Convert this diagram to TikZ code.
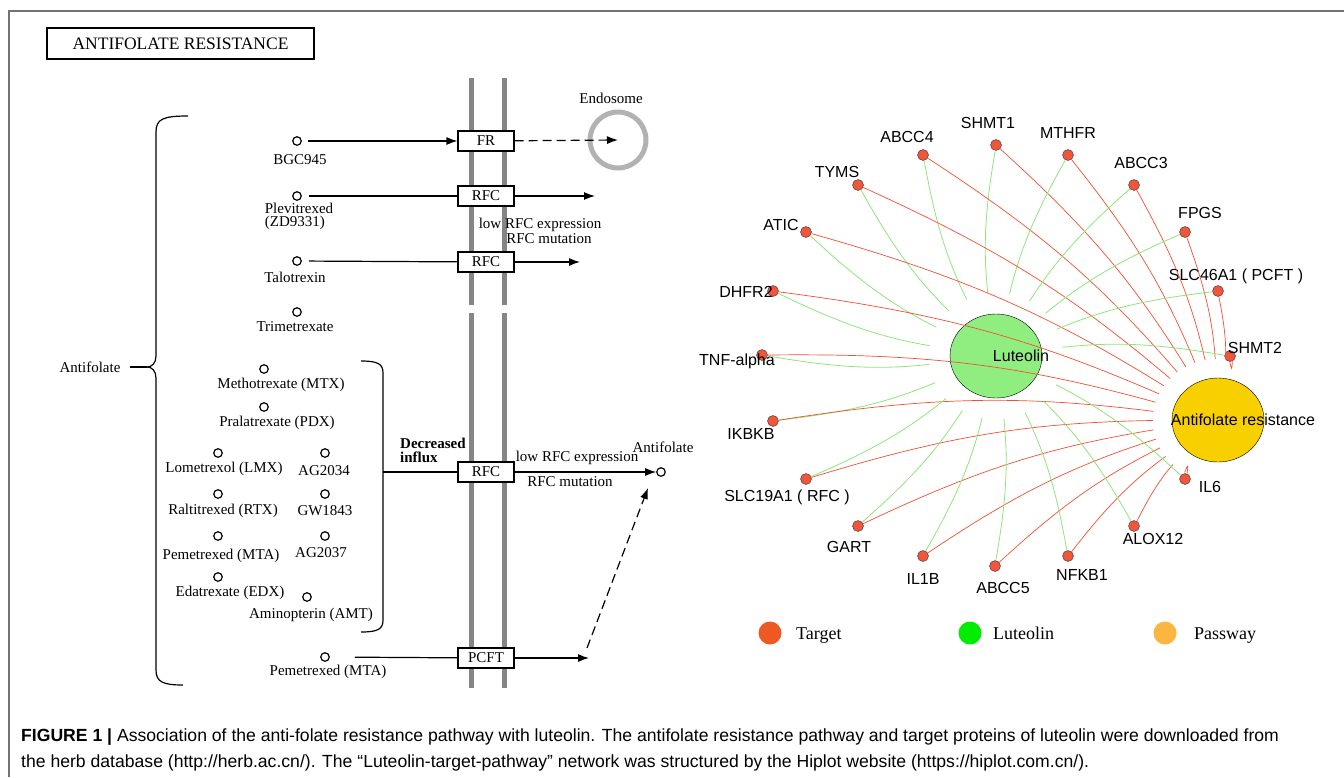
\documentclass[tikz,border=0pt]{standalone}
\usepackage{fontspec}
\setmainfont{Liberation Serif}
\newfontfamily\netfont{Liberation Sans}
\usetikzlibrary{arrows.meta,shapes.geometric}
\definecolor{dotred}{RGB}{240,86,60}
\definecolor{edgered}{RGB}{240,80,50}
\definecolor{edgegreen}{RGB}{140,230,120}
\definecolor{lutfill}{RGB}{144,238,128}
\definecolor{pathfill}{RGB}{248,208,0}
\definecolor{legred}{RGB}{238,88,36}
\definecolor{leggreen}{RGB}{0,236,0}
\definecolor{legorange}{RGB}{250,182,64}
\tikzset{
	mol/.style={circle,draw,line width=1.2pt,inner sep=0pt,minimum size=8.5pt},
	molname/.style={inner sep=0pt,font=\fontsize{15}{13}\selectfont},
	carrier/.style={draw,line width=1.2pt,fill=white,minimum width=56pt,minimum height=20pt,inner sep=0pt,font=\fontsize{15}{15}\selectfont},
	membrane/.style={line width=5pt,draw=black!48},
	flow/.style={line width=1.2pt,-{Latex[length=11pt,width=8pt]}},
	gap/.style={dash pattern=on 9pt off 5pt},
	target/.style={circle,draw=black!80,fill=dotred,inner sep=0pt,minimum size=11pt},
	netname/.style={inner sep=0pt,font=\netfont\fontsize{16}{16}\selectfont},
	tolut/.style={edgegreen,line width=0.8pt,bend right=8,shorten >=21pt},
	topath/.style={edgered,line width=0.7pt,bend left=8,shorten >=19pt},
	legdot/.style={circle,inner sep=0pt,minimum width=23pt,minimum height=21pt},
	legname/.style={inner sep=0pt,font=\fontsize{18}{18}\selectfont,anchor=base west},
	capline/.style={inner sep=0pt,anchor=base west,font=\netfont\fontsize{17.6}{17.6}\selectfont},
}
\begin{document}
\begin{tikzpicture}[x=1pt,y=-1pt]
	\useasboundingbox (0,0) rectangle (1344,777);
	\draw[black!55,line width=1.5pt] (9,777) -- (9,11) -- (1344,11);
	\node[draw,line width=2pt,minimum width=267pt,minimum height=31pt,inner sep=0pt,font=\fontsize{17.5}{17.5}\selectfont] (title) at (180.5,43.5) {ANTIFOLATE RESISTANCE};

	\draw[membrane] (471,78) -- (471,305) (471,313) -- (471,688);
	\draw[membrane] (504,78) -- (504,305) (504,313) -- (504,688);
	\node[carrier] (fr) at (486,141) {FR};
	\node[carrier] (rfca) at (486,196) {RFC};
	\node[carrier] (rfcb) at (486,262) {RFC};
	\node[carrier] (rfcc) at (486,472) {RFC};
	\node[carrier] (pcft) at (486,658) {PCFT};

	\node[circle,draw=black!30,line width=5pt,minimum size=56pt] (endo) at (618,140) {};
	\node[molname] (endoname) at (611,98) {Endosome};

	\node[mol] (bgc) at (297,141) {};
	\node[molname] (bgcname) at (300,160) {BGC945};
	\node[mol] (plev) at (297,196) {};
	\node[molname,align=left] (plevname) at (299,216) {Plevitrexed\\(ZD9331)};
	\node[mol] (talo) at (297,261) {};
	\node[molname] (taloname) at (295,277) {Talotrexin};
	\node[mol] (trime) at (297,312) {};
	\node[molname] (trimename) at (295,327) {Trimetrexate};
	\node[mol] (mtx) at (264,369) {};
	\node[molname] (mtxname) at (281,385) {Methotrexate (MTX)};
	\node[mol] (pdx) at (264,407) {};
	\node[molname] (pdxname) at (277,423) {Pralatrexate (PDX)};
	\node[mol] (lmx) at (218,453) {};
	\node[molname] (lmxname) at (224,469) {Lometrexol (LMX)};
	\node[mol] (ag2034) at (325,453) {};
	\node[molname] (ag2034name) at (324,471) {AG2034};
	\node[mol] (rtx) at (218,494) {};
	\node[molname] (rtxname) at (223,511) {Raltitrexed (RTX)};
	\node[mol] (gw1843) at (325,494) {};
	\node[molname] (gw1843name) at (325,511) {GW1843};
	\node[mol] (mta) at (218,536) {};
	\node[molname] (mtaname) at (221,556) {Pemetrexed (MTA)};
	\node[mol] (ag2037) at (325,536) {};
	\node[molname] (ag2037name) at (321,553) {AG2037};
	\node[mol] (edx) at (218,577) {};
	\node[molname] (edxname) at (230,593) {Edatrexate (EDX)};
	\node[mol] (amt) at (307,597) {};
	\node[molname] (amtname) at (311,615) {Aminopterin (AMT)};
	\node[mol] (pem) at (325,657) {};
	\node[molname] (pemname) at (328,672) {Pemetrexed (MTA)};

	\draw[flow,shorten <=6pt] (bgc) -- (fr);
	\draw[flow,gap] (fr) -- (endo.center);
	\draw[line width=1.2pt,shorten <=7pt] (plev) -- (rfca);
	\coordinate (rfcaout) at (595,196);
	\draw[flow] (rfca) -- (rfcaout);
	\node[molname] (lowa) at (540,225) {low RFC expression};
	\node[molname] (muta) at (549,239) {RFC mutation};
	\draw[line width=1.2pt,shorten <=7pt] (talo) -- (rfcb);
	\coordinate (rfcbout) at (580,262);
	\draw[flow] (rfcb) -- (rfcbout);

	\coordinate (bracetip) at (147,367);
	\draw[line width=1.2pt] (188,116) .. controls (163,116) and (156,119) .. (156,132) -- (156,356) .. controls (156,363) and (152,367) .. (bracetip) .. controls (152,367) and (156,371) .. (156,378) -- (156,670) .. controls (156,682) and (163,685) .. (183,685);
	\node[molname] (antifolate) at (90,367) {Antifolate};
	\draw[line width=1.2pt,shorten <=9pt] (antifolate) -- (bracetip);
	\draw[line width=1.2pt] (361,361) .. controls (378,361) and (383,364) .. (383,373) -- (383,620) .. controls (383,629) and (378,632) .. (361,632);
	\coordinate (grpout) at (383,472);
	\draw[line width=1.2pt] (grpout) -- (rfcc);
	\node[molname,align=left,anchor=west,font=\bfseries\fontsize{15}{14}\selectfont] (influx) at (400,450) {Decreased\\influx};
	\node[mol] (antifol) at (661,472) {};
	\node[molname] (antifolname) at (663,447) {Antifolate};
	\draw[flow] (rfcc) -- (antifol);
	\node[molname] (lowb) at (577,458) {low RFC expression};
	\node[molname] (mutb) at (570,482) {RFC mutation};
	\draw[line width=1.2pt,shorten <=25pt] (pem) -- (pcft);
	\coordinate (pcftout) at (589,658);
	\draw[flow] (pcft) -- (pcftout);
	\coordinate (dashfrom) at (587,648);
	\coordinate (dashto) at (648,488);
	\draw[flow,gap] (dashfrom) -- (dashto);

	\node[ellipse,draw,fill=lutfill,minimum width=92pt,minimum height=84pt] (lut) at (996,356) {};
	\node[ellipse,draw,fill=pathfill,minimum width=92pt,minimum height=84pt] (path) at (1218,420) {};
	\foreach \n/\x/\y/\lx/\ly/\lab in {
		shmt1/996/145/988/123/SHMT1, abcc4/923/155/907/137/ABCC4,
		mthfr/1068/155/1068/133/MTHFR, tyms/858/185/837/172/TYMS,
		abcc3/1134/185/1141/163/ABCC3, atic/806/232/781/225/ATIC,
		fpgs/1185/232/1200/213/FPGS, dhfr2/773/291/746/292/DHFR2,
		slc46a1/1218/291/1236/276/SLC46A1 ( PCFT ), tnf/762/355/737/361/TNF-alpha,
		shmt2/1230/356/1255/348/SHMT2, ikbkb/773/421/751/434/IKBKB,
		slc19a1/806/479/787/497/SLC19A1 ( RFC ), gart/858/526/849/547/GART,
		il1b/923/556/923/579/IL1B, abcc5/995/566/1003/588/ABCC5,
		nfkb1/1068/556/1082/575/NFKB1, alox12/1134/526/1153/539/ALOX12,
		il6/1185/479/1210/487/IL6}{
		\node[target] (\n) at (\x,\y) {};
		\node[netname] (\n-name) at (\lx,\ly) {\lab};
	}
	\foreach \n in {shmt1,abcc4,mthfr,tyms,abcc3,atic,fpgs,dhfr2,slc46a1,tnf,shmt2,ikbkb,slc19a1,gart,il1b,abcc5,nfkb1,alox12,il6}{
		\draw[tolut] (\n) to (lut);
		\draw[topath] (\n) to (path);
	}
	\node[netname] (lutname) at (1021,356) {Luteolin};
	\node[netname] (pathname) at (1243,420) {Antifolate resistance};

	\node[legdot,fill=legred] (legtarget) at (770,633) {};
	\node[legname] (legtargetname) at (796,639) {Target};
	\node[legdot,fill=leggreen] (leglut) at (970,633) {};
	\node[legname] (leglutname) at (993,639) {Luteolin};
	\node[legdot,fill=legorange] (legpath) at (1165,633) {};
	\node[legname] (legpathname) at (1194,639) {Passway};

	\node[capline] (capa) at (21,741) {\textbf{FIGURE 1 |} Association of the anti-folate resistance pathway with luteolin. The antifolate resistance pathway and target proteins of luteolin were downloaded from};
	\node[capline] (capb) at (21,767) {the herb database (http://herb.ac.cn/). The “Luteolin-target-pathway” network was structured by the Hiplot website (https://hiplot.com.cn/).};
\end{tikzpicture}
\end{document}
